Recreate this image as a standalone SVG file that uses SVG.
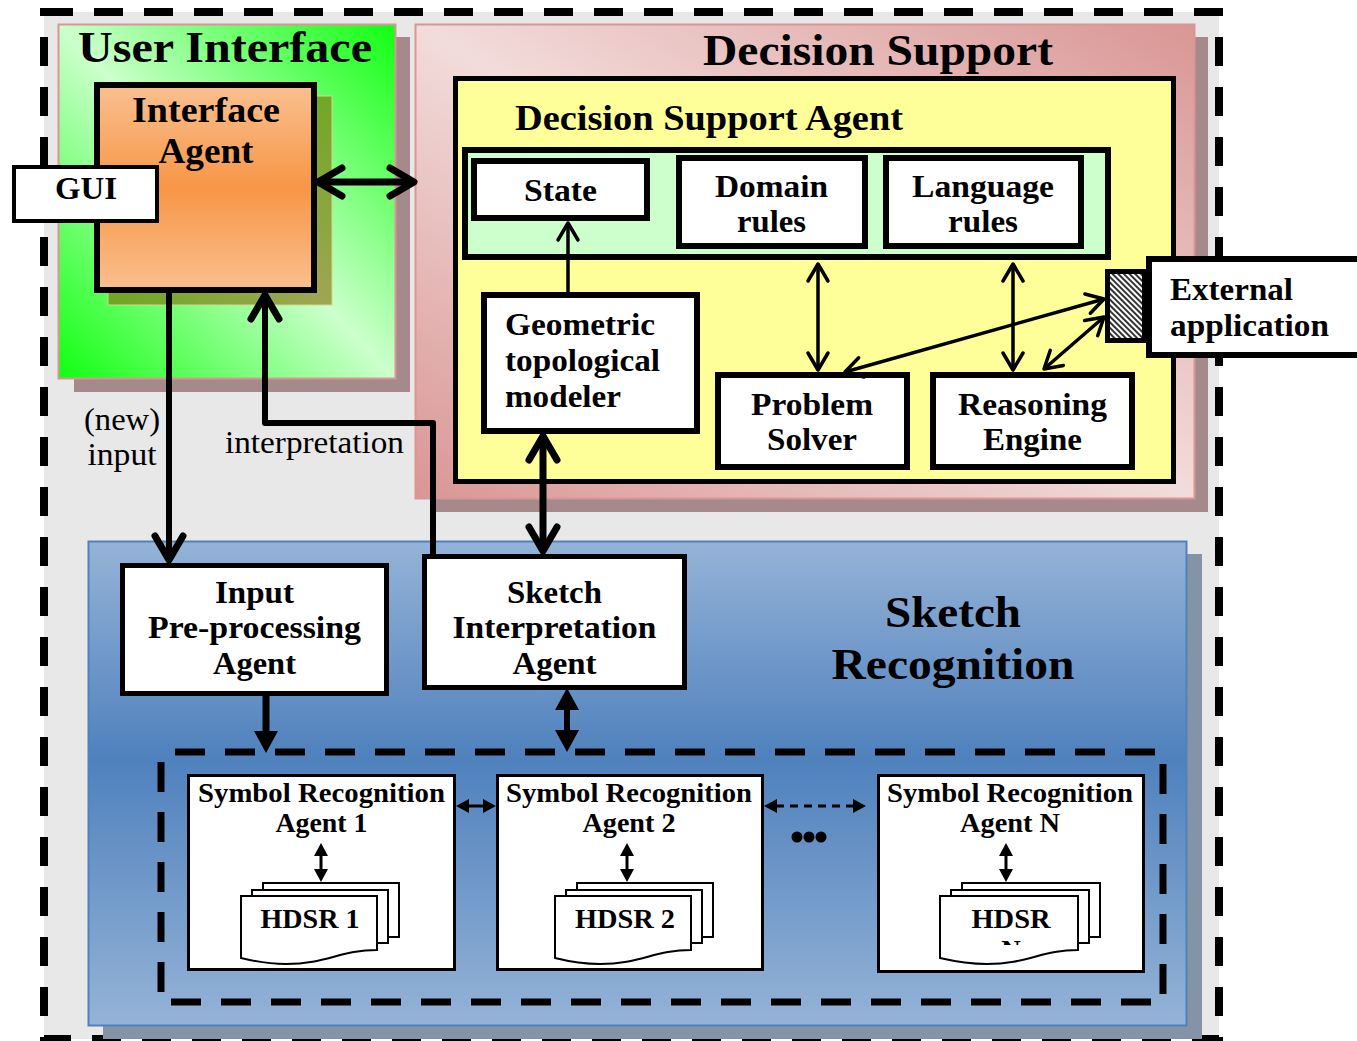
<svg xmlns="http://www.w3.org/2000/svg" width="1357" height="1041" viewBox="0 0 1357 1041">
<style>
text{font-family:"Liberation Serif","Times New Roman",serif;font-weight:bold;fill:#000}
.reg{font-weight:normal}
.t44{font-size:44px}.t35{font-size:35px}.t32{font-size:32px}.t31{font-size:31px}.t27{font-size:27px}
.box{fill:#fff;stroke:#000}
.conn{fill:none;stroke:#000;stroke-linejoin:round}
.doc{fill:#fff;stroke:#000;stroke-width:2}
</style>
<defs>
<linearGradient id="gUI" x1="1" y1="0" x2="0" y2="1">
<stop offset="0" stop-color="#11ff11"/><stop offset="0.5" stop-color="#ccffcc"/><stop offset="1" stop-color="#11ff11"/>
</linearGradient>
<linearGradient id="gDS" x1="1" y1="0" x2="0" y2="1">
<stop offset="0" stop-color="#d99694"/><stop offset="0.5" stop-color="#f2dcdb"/><stop offset="1" stop-color="#d99694"/>
</linearGradient>
<linearGradient id="gSR" x1="0" y1="0" x2="0" y2="1">
<stop offset="0" stop-color="#95b3d7"/><stop offset="0.45" stop-color="#4f81bd"/><stop offset="1" stop-color="#95b3d7"/>
</linearGradient>
<linearGradient id="gIA" x1="0" y1="0" x2="0" y2="1">
<stop offset="0" stop-color="#fac090"/><stop offset="0.5" stop-color="#f79646"/><stop offset="1" stop-color="#fac090"/>
</linearGradient>
<pattern id="hatch" width="4" height="4" patternUnits="userSpaceOnUse" patternTransform="rotate(-45)">
<rect width="4" height="4" fill="#fff"/><line x1="1" y1="0" x2="1" y2="4" stroke="#000" stroke-width="1.6"/>
</pattern>
<clipPath id="clipN"><rect x="940" y="896" width="140" height="49"/></clipPath>
<marker id="chevBig" markerUnits="userSpaceOnUse" markerWidth="60" markerHeight="60" refX="0" refY="0" orient="auto-start-reverse" overflow="visible">
<path d="M-24,-14 L0,0 L-24,14" fill="none" stroke="#000" stroke-width="7" stroke-linecap="round" stroke-linejoin="round"/>
</marker>
<marker id="chevSmall" markerUnits="userSpaceOnUse" markerWidth="40" markerHeight="40" refX="0" refY="0" orient="auto-start-reverse" overflow="visible">
<path d="M-17,-10 L0,0 L-17,10" fill="none" stroke="#000" stroke-width="3.5" stroke-linecap="round" stroke-linejoin="round"/>
</marker>
<marker id="triBig" markerUnits="userSpaceOnUse" markerWidth="40" markerHeight="40" refX="0" refY="0" orient="auto-start-reverse" overflow="visible">
<path d="M-1,-12 L21,0 L-1,12 Z" fill="#000"/>
</marker>
<marker id="triSmall" markerUnits="userSpaceOnUse" markerWidth="30" markerHeight="30" refX="0" refY="0" orient="auto-start-reverse" overflow="visible">
<path d="M-1,-7 L12,0 L-1,7 Z" fill="#000"/>
</marker>
</defs>

<rect x="0" y="0" width="1357" height="1041" fill="#fff"/>
<g id="system">
<rect x="44" y="12" width="1175" height="1027" fill="#e8e8e8" stroke="#000" stroke-width="8" stroke-dasharray="29 21"/>
</g>

<g id="user-interface">
<rect x="74" y="37" width="336" height="355" fill="#a6898a"/>
<rect x="58.5" y="24.5" width="337" height="354" fill="url(#gUI)" stroke="#d99694" stroke-width="2"/>
<text class="t44" x="225" y="62" text-anchor="middle" textLength="294" lengthAdjust="spacingAndGlyphs">User Interface</text>
</g>

<g id="decision-support">
<rect x="430" y="37" width="778" height="475" fill="#a6898a"/>
<rect x="415.5" y="24.5" width="779" height="474" fill="url(#gDS)" stroke="#d99694" stroke-width="2"/>
<text class="t44" x="878" y="65" text-anchor="middle" textLength="350" lengthAdjust="spacingAndGlyphs">Decision Support</text>
</g>

<g id="sketch-recognition">
<rect x="103" y="554" width="1099" height="485" fill="#8593a6"/>
<rect x="88.5" y="541.5" width="1098" height="484" fill="url(#gSR)" stroke="#4f81bd" stroke-width="2"/>
<text class="t44" x="953" y="627" text-anchor="middle" textLength="136" lengthAdjust="spacingAndGlyphs">Sketch</text>
<text class="t44" x="953" y="679" text-anchor="middle" textLength="243" lengthAdjust="spacingAndGlyphs">Recognition</text>
<rect id="symbol-recognition-group" x="161" y="752" width="1002" height="250" fill="none" stroke="#000" stroke-width="7" stroke-dasharray="30 20" stroke-dashoffset="36"/>
</g>

<g id="interface-agent">
<rect x="108" y="96" width="224" height="209" fill="#806a00" fill-opacity="0.6" stroke="#d0d890" stroke-width="1"/>
<rect class="box" x="97" y="85" width="217" height="205" style="fill:url(#gIA)" stroke-width="6"/>
<text class="t35" x="206" y="122" text-anchor="middle" textLength="148" lengthAdjust="spacingAndGlyphs">Interface</text>
<text class="t35" x="206" y="163" text-anchor="middle" textLength="95" lengthAdjust="spacingAndGlyphs">Agent</text>
</g>

<g id="gui">
<rect class="box" x="14" y="167" width="143" height="54" stroke-width="4"/>
<text class="t32" x="86" y="199" text-anchor="middle" textLength="62" lengthAdjust="spacingAndGlyphs">GUI</text>
</g>

<g id="decision-support-agent">
<rect x="455.5" y="78.5" width="718" height="403" fill="#ffff99" stroke="#000" stroke-width="5"/>
<text class="t35" x="709" y="130" text-anchor="middle" textLength="388" lengthAdjust="spacingAndGlyphs">Decision Support Agent</text>
<rect x="465" y="150" width="643" height="107" fill="#ccffcc" stroke="#000" stroke-width="6"/>
</g>

<g id="state">
<rect class="box" x="474" y="161" width="173" height="57" stroke-width="6"/>
<text class="t32" x="560.5" y="201" text-anchor="middle" textLength="73" lengthAdjust="spacingAndGlyphs">State</text>
</g>

<g id="domain-rules">
<rect class="box" x="679" y="158" width="186" height="88" stroke-width="6"/>
<text class="t32" x="771.5" y="197" text-anchor="middle" textLength="113" lengthAdjust="spacingAndGlyphs">Domain</text>
<text class="t32" x="771.5" y="232" text-anchor="middle" textLength="69" lengthAdjust="spacingAndGlyphs">rules</text>
</g>

<g id="language-rules">
<rect class="box" x="886" y="158" width="195" height="88" stroke-width="6"/>
<text class="t32" x="983" y="197" text-anchor="middle" textLength="142" lengthAdjust="spacingAndGlyphs">Language</text>
<text class="t32" x="983" y="232" text-anchor="middle" textLength="70" lengthAdjust="spacingAndGlyphs">rules</text>
</g>

<g id="geometric-topological-modeler">
<rect class="box" x="484" y="295" width="213" height="136" stroke-width="6"/>
<text class="t32" x="505" y="335" textLength="150" lengthAdjust="spacingAndGlyphs">Geometric</text>
<text class="t32" x="505" y="371" textLength="155" lengthAdjust="spacingAndGlyphs">topological</text>
<text class="t32" x="505" y="407" textLength="116" lengthAdjust="spacingAndGlyphs">modeler</text>
</g>

<g id="problem-solver">
<rect class="box" x="718" y="375" width="189" height="92" stroke-width="6"/>
<text class="t32" x="812" y="415" text-anchor="middle" textLength="122" lengthAdjust="spacingAndGlyphs">Problem</text>
<text class="t32" x="812" y="450" text-anchor="middle" textLength="90" lengthAdjust="spacingAndGlyphs">Solver</text>
</g>

<g id="reasoning-engine">
<rect class="box" x="933" y="375" width="199" height="92" stroke-width="6"/>
<text class="t32" x="1032.5" y="415" text-anchor="middle" textLength="149" lengthAdjust="spacingAndGlyphs">Reasoning</text>
<text class="t32" x="1032.5" y="450" text-anchor="middle" textLength="99" lengthAdjust="spacingAndGlyphs">Engine</text>
</g>

<g id="external-application">
<rect class="box" x="1149" y="259" width="220" height="96" stroke-width="6"/>
<rect x="1107.5" y="271.5" width="37" height="69" fill="url(#hatch)" stroke="#000" stroke-width="5"/>
<text class="t32" x="1170" y="300" textLength="123" lengthAdjust="spacingAndGlyphs">External</text>
<text class="t32" x="1170" y="336" textLength="159" lengthAdjust="spacingAndGlyphs">application</text>
</g>

<g id="input-preprocessing-agent">
<rect class="box" x="122.5" y="565.5" width="264" height="128" stroke-width="5"/>
<text class="t31" x="254.5" y="603" text-anchor="middle" textLength="79" lengthAdjust="spacingAndGlyphs">Input</text>
<text class="t31" x="254.5" y="638" text-anchor="middle" textLength="213" lengthAdjust="spacingAndGlyphs">Pre-processing</text>
<text class="t31" x="254.5" y="674" text-anchor="middle" textLength="83" lengthAdjust="spacingAndGlyphs">Agent</text>
</g>

<g id="sketch-interpretation-agent">
<rect class="box" x="424.5" y="556.5" width="260" height="131" stroke-width="5"/>
<text class="t31" x="554.5" y="603" text-anchor="middle" textLength="95" lengthAdjust="spacingAndGlyphs">Sketch</text>
<text class="t31" x="554.5" y="638" text-anchor="middle" textLength="204" lengthAdjust="spacingAndGlyphs">Interpretation</text>
<text class="t31" x="554.5" y="674" text-anchor="middle" textLength="84" lengthAdjust="spacingAndGlyphs">Agent</text>
</g>

<g id="symbol-recognition-agent-1">
<rect class="box" x="188.5" y="775.5" width="266" height="194" stroke-width="3"/>
<text class="t27" x="321.5" y="802" text-anchor="middle" textLength="247" lengthAdjust="spacingAndGlyphs">Symbol Recognition</text>
<text class="t27" x="321.5" y="832" text-anchor="middle" textLength="92" lengthAdjust="spacingAndGlyphs">Agent 1</text>
<rect class="doc" x="263" y="883" width="136" height="54"/>
<rect class="doc" x="252" y="890" width="136" height="53"/>
<path class="doc" d="M241,896 H377 V950 C341,950 326,964 286,964 C266,964 253,961 241,958 Z"/>
<text class="t27" x="310" y="928" text-anchor="middle" textLength="99" lengthAdjust="spacingAndGlyphs">HDSR 1</text>
</g>

<g id="symbol-recognition-agent-2">
<rect class="box" x="497.5" y="775.5" width="265" height="194" stroke-width="3"/>
<text class="t27" x="629" y="802" text-anchor="middle" textLength="246" lengthAdjust="spacingAndGlyphs">Symbol Recognition</text>
<text class="t27" x="629" y="832" text-anchor="middle" textLength="93" lengthAdjust="spacingAndGlyphs">Agent 2</text>
<rect class="doc" x="577" y="883" width="136" height="54"/>
<rect class="doc" x="566" y="890" width="136" height="53"/>
<path class="doc" d="M555,896 H691 V950 C655,950 640,964 600,964 C580,964 567,961 555,958 Z"/>
<text class="t27" x="625" y="928" text-anchor="middle" textLength="100" lengthAdjust="spacingAndGlyphs">HDSR 2</text>
</g>

<g id="symbol-recognition-agent-n">
<rect class="box" x="878.5" y="775.5" width="265" height="196" stroke-width="3"/>
<text class="t27" x="1010" y="802" text-anchor="middle" textLength="246" lengthAdjust="spacingAndGlyphs">Symbol Recognition</text>
<text class="t27" x="1010" y="832" text-anchor="middle" textLength="100" lengthAdjust="spacingAndGlyphs">Agent N</text>
<rect class="doc" x="962" y="883" width="138" height="54"/>
<rect class="doc" x="951" y="890" width="138" height="53"/>
<path class="doc" d="M940,896 H1078 V950 C1042,950 1027,964 987,964 C967,964 953,961 940,958 Z"/>
<text class="t27" x="1011" y="928" text-anchor="middle" textLength="79" lengthAdjust="spacingAndGlyphs">HDSR</text>
<text class="t27" x="1011" y="959" text-anchor="middle" clip-path="url(#clipN)">N</text>
</g>

<g id="ellipsis">
<circle cx="797" cy="837" r="5.5" fill="#000"/>
<circle cx="809" cy="837" r="5.5" fill="#000"/>
<circle cx="821" cy="837" r="5.5" fill="#000"/>
</g>

<g id="labels">
<text class="t31 reg" x="122" y="430" text-anchor="middle" textLength="76" lengthAdjust="spacingAndGlyphs">(new)</text>
<text class="t31 reg" x="122" y="465" text-anchor="middle" textLength="69" lengthAdjust="spacingAndGlyphs">input</text>
<text class="t31 reg" x="314.5" y="453" text-anchor="middle" textLength="179" lengthAdjust="spacingAndGlyphs">interpretation</text>
</g>

<g id="connectors">
<line class="conn" x1="318" y1="182" x2="414" y2="182" stroke-width="7" marker-start="url(#chevBig)" marker-end="url(#chevBig)"/>
<line class="conn" x1="169" y1="291" x2="169" y2="560" stroke-width="6" marker-end="url(#chevBig)"/>
<polyline class="conn" points="433,556 433,423 265,423 265,295" stroke-width="6" marker-end="url(#chevBig)"/>
<line class="conn" x1="543" y1="436" x2="543" y2="551" stroke-width="7" marker-start="url(#chevBig)" marker-end="url(#chevBig)"/>
<line class="conn" x1="568" y1="293" x2="568" y2="223" stroke-width="3.5" marker-end="url(#chevSmall)"/>
<line class="conn" x1="818" y1="264" x2="818" y2="370" stroke-width="3.5" marker-start="url(#chevSmall)" marker-end="url(#chevSmall)"/>
<line class="conn" x1="1013" y1="264" x2="1013" y2="370" stroke-width="3.5" marker-start="url(#chevSmall)" marker-end="url(#chevSmall)"/>
<line class="conn" x1="845" y1="372" x2="1104" y2="299" stroke-width="3.5" marker-start="url(#chevSmall)" marker-end="url(#chevSmall)"/>
<line class="conn" x1="1044" y1="369" x2="1104" y2="317" stroke-width="3.5" marker-start="url(#chevSmall)" marker-end="url(#chevSmall)"/>
<line class="conn" x1="266" y1="696" x2="266" y2="732" stroke-width="7" marker-end="url(#triBig)"/>
<line class="conn" x1="567" y1="709" x2="567" y2="731" stroke-width="6" marker-start="url(#triBig)" marker-end="url(#triBig)"/>
<line class="conn" x1="468" y1="806" x2="484" y2="806" stroke-width="3" marker-start="url(#triSmall)" marker-end="url(#triSmall)"/>
<line class="conn" x1="776" y1="806" x2="854" y2="806" stroke-width="3" stroke-dasharray="8 6" marker-start="url(#triSmall)" marker-end="url(#triSmall)"/>
<line class="conn" x1="321" y1="855" x2="321" y2="870" stroke-width="3" marker-start="url(#triSmall)" marker-end="url(#triSmall)"/>
<line class="conn" x1="627" y1="855" x2="627" y2="870" stroke-width="3" marker-start="url(#triSmall)" marker-end="url(#triSmall)"/>
<line class="conn" x1="1006" y1="855" x2="1006" y2="870" stroke-width="3" marker-start="url(#triSmall)" marker-end="url(#triSmall)"/>
</g>
</svg>
